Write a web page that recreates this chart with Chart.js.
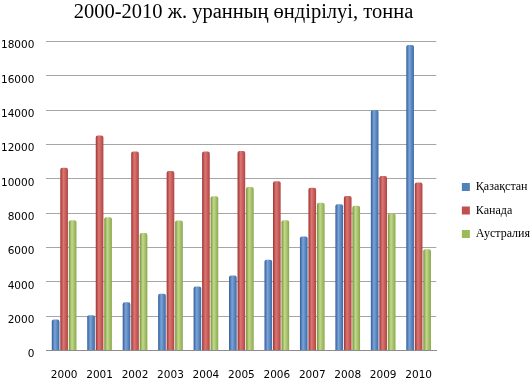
<!DOCTYPE html>
<html>
<head>
<meta charset="utf-8">
<script src="https://cdn.jsdelivr.net/npm/chart.js@4"></script>
<style>
  html, body { margin: 0; padding: 0; background: #fff; }
  #wrap { width: 530px; height: 379px; }
</style>
</head>
<body>
<div id="wrap"><canvas id="graph" width="530" height="379"></canvas></div>
<script>
const jyldar = ['2000', '2001', '2002', '2003', '2004', '2005', '2006', '2007', '2008', '2009', '2010'];
const qazaqstan = [1800, 2050, 2800, 3300, 3720, 4360, 5280, 6640, 8520, 14020, 17800];
const kanada = [10650, 12520, 11600, 10460, 11600, 11630, 9860, 9480, 9000, 10170, 9780];
const avstraliya = [7580, 7760, 6850, 7570, 8980, 9520, 7590, 8610, 8430, 7980, 5900];
const tusTer = {
  'Қазақстан': ['#2f5d96', '#7ba3d8', '#3a6aa8'],
  'Канада': ['#9c3431', '#dd7673', '#b04542'],
  'Аустралия': ['#76923a', '#c2d98b', '#8aa84c']
};

// Цилиндр тәрізді бағаналар үшін градиент
const cilindr = {
  id: 'cilindr',
  afterLayout(chart) {
    // тақырып пен легенданы сәл жылжыту
    chart.titleBlock.left -= 14;
    chart.titleBlock.right -= 14;
    chart.legend.left += 14;
    chart.legend.right += 14;
    chart.legend.top += 14;
    chart.legend.bottom += 14;
  },
  beforeDatasetsDraw(chart) {
    const ctx = chart.ctx;
    chart.data.datasets.forEach((ds, i) => {
      const t = tusTer[ds.label];
      chart.getDatasetMeta(i).data.forEach((bar) => {
        const x0 = bar.x - bar.width / 2;
        const g = ctx.createLinearGradient(x0, 0, x0 + bar.width, 0);
        g.addColorStop(0, t[0]);
        g.addColorStop(0.4, t[1]);
        g.addColorStop(1, t[2]);
        bar.options = Object.assign({}, bar.options, { backgroundColor: g });
      });
    });
  }
};

const data = {
  labels: jyldar,
  datasets: [
    { label: 'Қазақстан', data: qazaqstan, backgroundColor: '#4f81bd' },
    { label: 'Канада', data: kanada, backgroundColor: '#c0504d' },
    { label: 'Аустралия', data: avstraliya, backgroundColor: '#9bbb59' }
  ]
};

const config = {
  type: 'bar',
  data: data,
  options: {
    responsive: false,
    animation: false,
    layout: { padding: { left: -11, right: 4, top: 0, bottom: -14 } },
    datasets: { bar: { categoryPercentage: 0.72, barPercentage: 0.9, borderRadius: { topLeft: 2, topRight: 2 }, borderSkipped: 'bottom' } },
    plugins: {
      title: {
        display: true,
        text: '2000-2010 ж. уранның өндірілуі, тонна',
        color: '#000',
        font: { family: 'Liberation Serif', size: 20.5, weight: 'normal' },
        padding: { top: 0, bottom: 17 }
      },
      legend: {
        position: 'right',
        align: 'center',
        labels: {
          boxWidth: 8,
          boxHeight: 8,
          padding: 11.5,
          color: '#000',
          font: { family: 'Liberation Serif', size: 12 }
        }
      },
      tooltip: { enabled: false }
    },
    scales: {
      x: {
        grid: { display: false },
        border: { color: '#8c8c8c' },
        ticks: { color: '#000', font: { family: 'DejaVu Sans', size: 10.5 }, padding: 11, maxRotation: 0, autoSkip: false }
      },
      y: {
        min: 0,
        max: 18000,
        ticks: {
          stepSize: 2000,
          color: '#000',
          font: { family: 'DejaVu Sans', size: 10.5 },
          padding: 12,
          labelOffset: 4,
          callback: (v) => String(v)
        },
        grid: { color: '#a6a6a6', drawTicks: false },
        border: { display: false }
      }
    }
  },
  plugins: [cilindr]
};

new Chart(document.getElementById('graph'), config);
</script>
</body>
</html>
